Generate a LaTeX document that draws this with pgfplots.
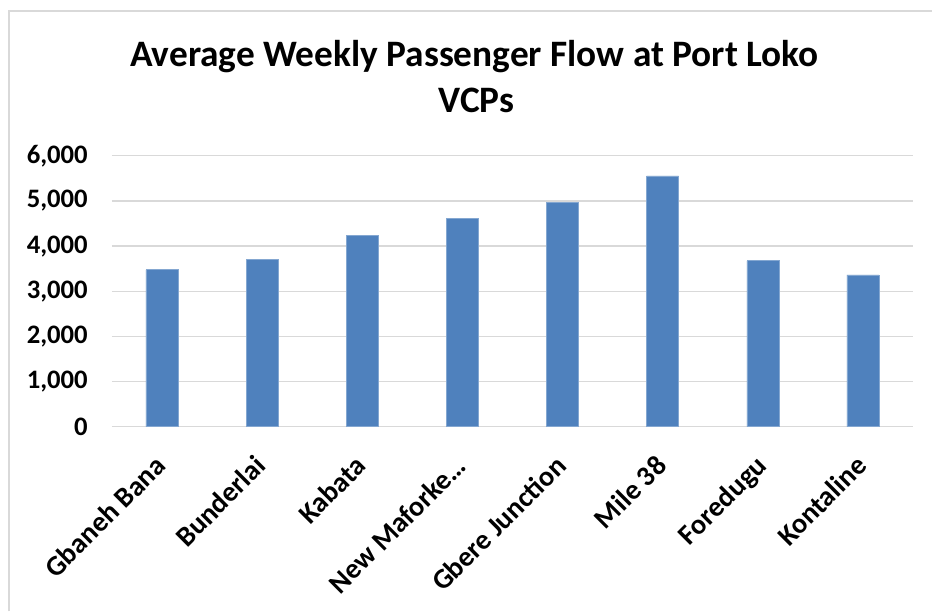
\documentclass[border=0pt]{standalone}
\usepackage{pgfplots}
\pgfplotsset{compat=1.18}
\usepackage{fontspec}
\setmainfont{Carlito}
\definecolor{barblue}{HTML}{4F81BD}
\definecolor{gridgray}{HTML}{D9D9D9}
\begin{document}
\begin{tikzpicture}[x=1bp,y=1bp]
\path[fill=white] (0,0) rectangle (933,612);
\draw[gridgray, line width=2bp] (9,0) -- (9,601) -- (933,601);
\node[anchor=base, font=\fontsize{37.5}{44}\selectfont\bfseries] at (475,545) {Average Weekly Passenger Flow at Port Loko};
\node[anchor=base, font=\fontsize{37.5}{44}\selectfont\bfseries] at (477,499) {VCPs};
\begin{axis}[
  at={(112bp,185bp)}, anchor=south west,
  scale only axis, width=802bp, height=271bp,
  xmin=-0.5, xmax=7.5, ymin=0, ymax=6000,
  axis line style={draw=none},
  major tick length=0pt,
  ymajorgrids, grid style={gridgray, line width=1.2bp},
  ytick={0,1000,...,6000},
  xtick=data,
  xticklabels={Gbaneh Bana,Bunderlai,Kabata,New Maforke\ldots,Gbere Junction,Mile 38,Foredugu,Kontaline},
  /pgf/number format/assume math mode=true,
  /pgf/number format/1000 sep={,},
  scaled y ticks=false,
  yticklabel style={font=\fontsize{26.8}{32}\selectfont\bfseries, anchor=east, inner sep=0pt, xshift=-24bp},
  xticklabel style={font=\fontsize{28.5}{34}\selectfont\bfseries, rotate=45, anchor=north east, inner sep=0pt, xshift=-25bp, yshift=-13bp},
  clip=false,
]
\addplot[ybar, bar width=32bp, fill=barblue, draw=barblue!70!white, line width=0.6bp] coordinates {
 (0,3474) (1,3704) (2,4244) (3,4615) (4,4963) (5,5556) (6,3674) (7,3363)
};
\end{axis}
\end{tikzpicture}
\end{document}
